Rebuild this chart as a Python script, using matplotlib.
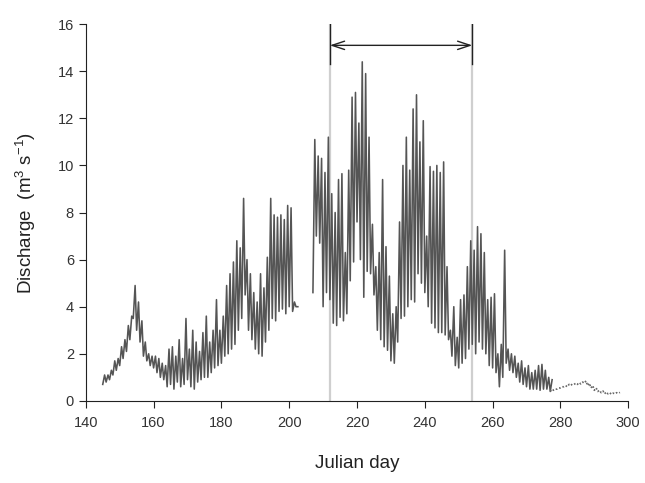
import numpy as np
import matplotlib
matplotlib.use('Agg')
import matplotlib.pyplot as plt

plt.rcParams['font.family'] = ['Liberation Sans', 'DejaVu Sans']
plt.rcParams['mathtext.default'] = 'regular'

# daily discharge cycles (m3 s-1): trough then peak per day
days = list(range(145, 203)) + [203, 204, 205, 206] + list(range(207, 278))
q_low = [0.7, 0.8, 0.9, 1.1, 1.3, 1.5, 1.8, 2.1, 2.6, 3.5,
         3.0, 2.5, 1.9, 1.7, 1.5, 1.4, 1.2, 1.0, 0.9, 0.6,
         0.7, 0.5, 0.8, 0.6, 0.7, 0.9, 0.6, 0.5, 0.8, 0.9,
         1.0, 1.0, 1.2, 1.4, 1.5, 1.6, 1.9, 2.0, 2.2, 2.4,
         3.0, 3.5, 4.5, 3.0, 2.6, 2.2, 2.0, 1.9, 2.5, 3.0,
         3.5, 3.4, 3.8, 3.9, 3.7, 4.0, 3.8, 4.0,
         np.nan, np.nan, np.nan, np.nan,
         4.6, 7.0, 6.7, 4.0, 4.6, 4.3, 3.3, 3.2, 3.55, 3.4,
         3.7, 5.1, 5.9, 7.6, 6.0, 4.4, 5.5, 5.4, 4.5, 3.0,
         2.6, 2.3, 2.15, 1.7, 1.6, 2.5, 3.5, 3.6, 4.0, 4.3,
         4.2, 5.4, 5.0, 4.6, 4.0, 3.3, 3.1, 2.9, 2.9, 2.8,
         2.6, 1.9, 1.5, 1.4, 1.6, 1.8, 2.2, 2.4, 2.0, 2.5,
         2.2, 2.0, 1.5, 1.4, 1.2, 0.6, 1.0, 1.6, 1.3, 1.2,
         1.0, 0.8, 0.7, 0.6, 0.5, 0.5, 0.5, 0.45, 0.5, 0.5,
         0.4]
q_high = [1.1, 1.1, 1.3, 1.7, 1.8, 2.3, 2.6, 3.2, 3.6, 4.9,
          4.2, 3.4, 2.5, 2.0, 1.9, 1.9, 1.8, 1.6, 1.5, 2.2,
          2.3, 1.9, 2.6, 1.8, 3.5, 2.2, 3.0, 2.5, 2.1, 2.9,
          3.6, 2.5, 3.0, 4.3, 3.0, 3.6, 4.9, 5.4, 5.9, 6.8,
          6.5, 8.6, 6.0, 5.4, 4.6, 4.2, 5.4, 4.8, 6.1, 8.6,
          7.9, 7.8, 7.9, 7.7, 8.3, 8.2, 4.2, 4.0,
          np.nan, np.nan, np.nan, np.nan,
          11.1, 10.4, 10.3, 9.7, 11.2, 8.8, 8.0, 9.4, 9.65, 6.3,
          9.8, 12.9, 13.1, 11.8, 14.4, 13.9, 11.2, 7.5, 5.7, 6.3,
          9.4, 6.55, 5.3, 3.7, 4.0, 7.6, 10.0, 11.2, 9.8, 12.4,
          13.0, 11.0, 11.9, 7.0, 9.95, 9.75, 10.0, 9.7, 10.15, 5.7,
          3.0, 4.0, 2.7, 4.3, 4.5, 5.7, 6.8, 6.4, 7.4, 7.1,
          6.3, 4.3, 4.4, 4.55, 2.0, 2.4, 6.4, 2.2, 2.0, 1.9,
          1.6, 1.7, 1.4, 1.5, 1.2, 1.3, 1.5, 1.55, 1.3, 1.0,
          0.9]

# late season record (lighter, dotted)
tail_days = list(range(277, 298))
tail_low = [0.4, 0.45, 0.5, 0.55, 0.6, 0.6, 0.65, 0.7, 0.7, 0.72, 0.75,
            0.65, 0.55, 0.45, 0.4, 0.35, 0.3, 0.3, 0.28, 0.3, 0.32]
tail_high = [0.5, 0.5, 0.55, 0.6, 0.65, 0.7, 0.72, 0.75, 0.78, 0.8, 0.85,
             0.75, 0.65, 0.55, 0.45, 0.42, 0.38, 0.35, 0.33, 0.35, 0.36]

period = (212, 254)

d = np.array(days, dtype=float)
x = np.column_stack([d, d + 0.55]).ravel()
y = np.column_stack([q_low, q_high]).ravel()
td = np.array(tail_days, dtype=float)
tx = np.column_stack([td, td + 0.55]).ravel()
ty = np.column_stack([tail_low, tail_high]).ravel()

fig = plt.figure(figsize=(6.45, 4.83), dpi=100)
ax = fig.add_axes([0.133, 0.170, 0.841, 0.780])

for xv in period:
    ax.plot([xv, xv], [0, 16], color='#cfcfcf', lw=1.6, zorder=1)
    ax.plot([xv, xv], [14.3, 16], color='#222222', lw=1.0, zorder=3)

ax.plot(x, y, color='#555555', lw=1.15, zorder=2)
ax.plot(tx, ty, color='#666666', lw=1.2, ls=(0, (1, 1.2)), zorder=2)

ax.annotate('', xy=(period[0], 15.1), xytext=(period[1], 15.1),
            arrowprops=dict(arrowstyle='<->,head_length=0.9,head_width=0.3',
                            color='#222222', lw=1.0, shrinkA=0, shrinkB=0))

ax.set_xlim(140, 300)
ax.set_ylim(0, 16)
ax.set_xticks(np.arange(140, 301, 20))
ax.set_yticks(np.arange(0, 17, 2))
for s in ['top', 'right']:
    ax.spines[s].set_visible(False)
for s in ['left', 'bottom']:
    ax.spines[s].set_color('#222222')
ax.tick_params(direction='out', length=5, colors='#222222', labelsize=10.5,
               labelcolor='#333333')
ax.tick_params(axis='x', pad=6)

ax.set_xlabel('Julian day', fontsize=13.5, labelpad=18, color='#222222')
ax.set_ylabel('Discharge  (m$^{3}$ s$^{-1}$)', fontsize=13.5, labelpad=14,
              color='#222222')

fig.savefig('out.png', dpi=100)
